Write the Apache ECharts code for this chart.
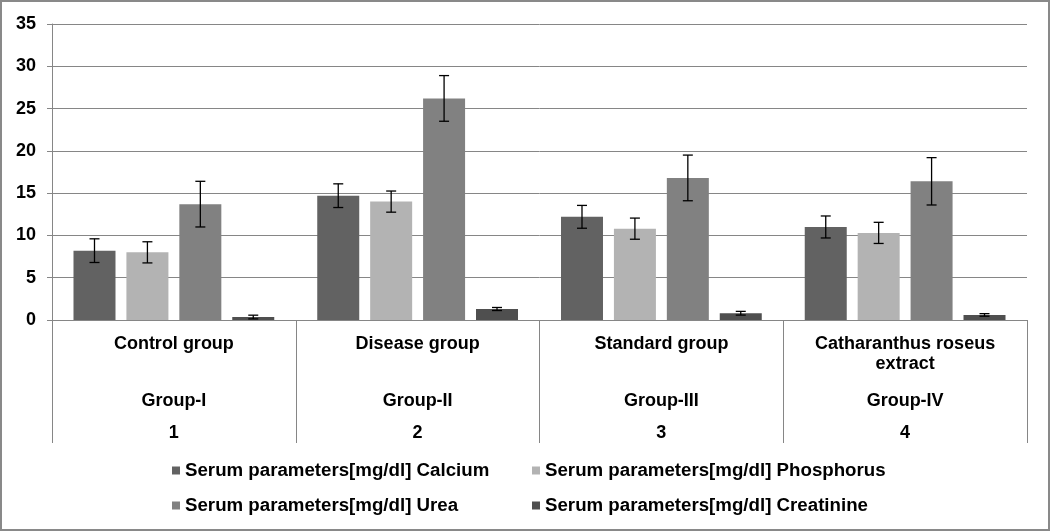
<!DOCTYPE html>
<html>
<head>
<meta charset="utf-8">
<script src="https://cdn.jsdelivr.net/npm/echarts@6/dist/echarts.min.js"></script>
<style>
html,body{margin:0;padding:0;background:#fff;}
#main{width:1050px;height:531px;}
</style>
</head>
<body>
<div id="main"></div>
<script>
// ---- data ----
const groupNames = ['Control group', 'Disease group', 'Standard group', 'Catharanthus roseus\nextract'];
const groupCodes = ['Group-I', 'Group-II', 'Group-III', 'Group-IV'];
const groupNumbers = ['1', '2', '3', '4'];
const seriesNames = [
  'Serum parameters[mg/dl] Calcium',
  'Serum parameters[mg/dl] Phosphorus',
  'Serum parameters[mg/dl] Urea',
  'Serum parameters[mg/dl] Creatinine'
];
const calcium = [8.2, 14.7, 12.2, 11.0];
const calciumSD = [1.4, 1.4, 1.35, 1.3];
const phosphorus = [8.0, 14.0, 10.8, 10.3];
const phosphorusSD = [1.25, 1.25, 1.25, 1.25];
const urea = [13.7, 26.2, 16.8, 16.4];
const ureaSD = [2.7, 2.7, 2.7, 2.8];
const creatinine = [0.35, 1.3, 0.8, 0.6];
const creatinineSD = [0.22, 0.18, 0.22, 0.15];
const yTicks = [0, 5, 10, 15, 20, 25, 30, 35];

// ---- styling ----
const colors = ['#626262', '#b3b3b3', '#818181', '#4f4f4f'];
const FONT = 'Liberation Sans, Arial, sans-serif';
const BAR_W = 42;
const BAR_GAP_RATIO = 0.26;
const AXIS_COLOR = '#868686';

const values = [calcium, phosphorus, urea, creatinine];
const sds = [calciumSD, phosphorusSD, ureaSD, creatinineSD];

const errData = [];
values.forEach((arr, s) => arr.forEach((v, c) => errData.push([c, s, v, sds[s][c]])));

const chart = echarts.init(document.getElementById('main'));

const barSeries = values.map((arr, i) => ({
  name: seriesNames[i],
  type: 'bar',
  data: arr,
  barWidth: BAR_W,
  barGap: (BAR_GAP_RATIO * 100) + '%',
  itemStyle: { color: colors[i] },
  emphasis: { disabled: true },
  z: 2
}));

const errSeries = {
  name: 'errors',
  type: 'custom',
  data: errData,
  encode: { x: 0, y: 2 },
  z: 5,
  silent: true,
  renderItem: function (params, api) {
    const c = api.value(0), s = api.value(1), m = api.value(2), sd = api.value(3);
    const gap = BAR_W * BAR_GAP_RATIO;
    const total = 4 * BAR_W + 3 * gap;
    const off = -total / 2 + BAR_W / 2 + s * (BAR_W + gap);
    const base = api.coord([c, m]);
    const x = base[0] + off;
    const yt = api.coord([c, m + sd])[1];
    const yb = api.coord([c, Math.max(0, m - sd)])[1];
    const cap = 5;
    const st = { stroke: '#000', lineWidth: 1.3 };
    return {
      type: 'group',
      children: [
        { type: 'line', shape: { x1: x, y1: yt, x2: x, y2: yb }, style: st },
        { type: 'line', shape: { x1: x - cap, y1: yt, x2: x + cap, y2: yt }, style: st },
        { type: 'line', shape: { x1: x - cap, y1: yb, x2: x + cap, y2: yb }, style: st }
      ]
    };
  }
};

const labelStyle = { fontFamily: FONT, fontSize: 18, fontWeight: 'bold', color: '#000', lineHeight: 20 };
const legendText = { fontFamily: FONT, fontSize: 18.7, fontWeight: 'bold', color: '#000', lineHeight: 18 };

chart.setOption({
  animation: false,
  backgroundColor: '#fff',
  grid: { left: 52, right: 23, top: 24, bottom: 211, containLabel: false },
  legend: [
    {
      data: [seriesNames[0], seriesNames[2]],
      orient: 'vertical', left: 167, top: 456,
      itemWidth: 8, itemHeight: 8, itemGap: 16,
      icon: 'rect',
      textStyle: legendText,
      selectedMode: false
    },
    {
      data: [seriesNames[1], seriesNames[3]],
      orient: 'vertical', left: 527, top: 456,
      itemWidth: 8, itemHeight: 8, itemGap: 16,
      icon: 'rect',
      textStyle: legendText,
      selectedMode: false
    }
  ],
  xAxis: [
    {
      type: 'category', data: groupNames, position: 'bottom',
      axisLine: { show: true, lineStyle: { color: AXIS_COLOR, width: 1 } },
      axisTick: { show: true, length: 123, lineStyle: { color: AXIS_COLOR, width: 1 }, alignWithLabel: false },
      axisLabel: Object.assign({ interval: 0, margin: 14 }, labelStyle)
    },
    {
      type: 'category', data: groupCodes, position: 'bottom', offset: 57,
      axisLine: { show: false }, axisTick: { show: false },
      axisLabel: Object.assign({ interval: 0, margin: 14 }, labelStyle)
    },
    {
      type: 'category', data: groupNumbers, position: 'bottom', offset: 89,
      axisLine: { show: false }, axisTick: { show: false },
      axisLabel: Object.assign({ interval: 0, margin: 14 }, labelStyle)
    }
  ],
  yAxis: {
    type: 'value', min: yTicks[0], max: yTicks[yTicks.length - 1], interval: 5,
    axisLine: { show: true, lineStyle: { color: AXIS_COLOR, width: 1 } },
    axisTick: { show: true, length: 5, lineStyle: { color: AXIS_COLOR } },
    splitLine: { show: true, lineStyle: { color: AXIS_COLOR, width: 1 } },
    axisLabel: { fontFamily: FONT, fontSize: 18, fontWeight: 'bold', color: '#000', margin: 16 }
  },
  graphic: [
    { type: 'rect', shape: { x: 1, y: 1, width: 1048, height: 529 }, style: { fill: 'none', stroke: '#898989', lineWidth: 2 }, silent: true, z: 100 }
  ],
  series: barSeries.concat([errSeries])
});
</script>
</body>
</html>
